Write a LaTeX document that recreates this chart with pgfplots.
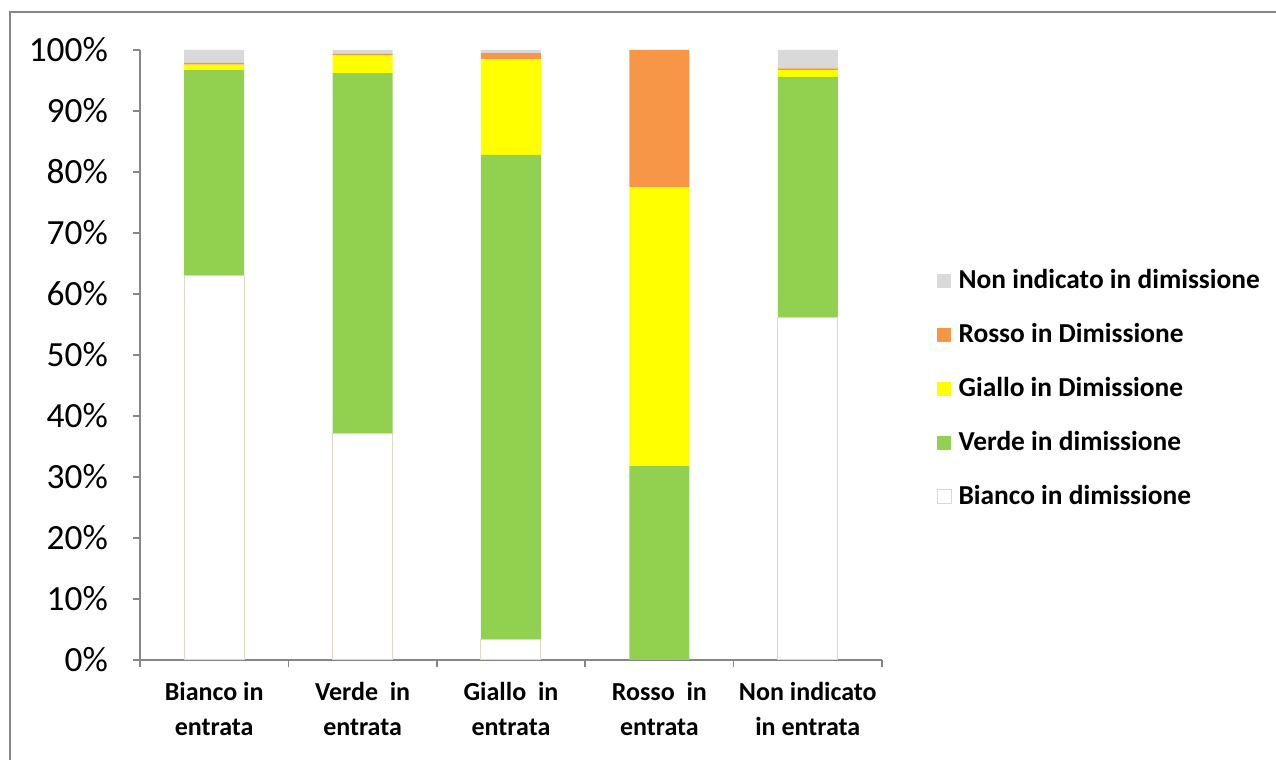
\documentclass[border=0pt]{standalone}
\usepackage{pgfplots}
\usepackage{pgfplotstable}
\pgfplotsset{compat=1.18}
\usepackage{fontspec}
\setmainfont{Carlito}

\definecolor{cGray}{HTML}{D9D9D9}
\definecolor{cOrange}{HTML}{F79646}
\definecolor{cYellow}{HTML}{FFFF00}
\definecolor{cGreen}{HTML}{92D050}
\definecolor{cEdge}{HTML}{DDD9C3}
\definecolor{cAxis}{HTML}{868686}

% percentage of each discharge colour code, per triage code at entry
\pgfplotstableread{
x bianco verde giallo rosso nonind
0 63.0 33.7 0.9 0.3 2.1
1 37.2 59.0 2.9 0.3 0.6
2 3.3 79.5 15.7 1.0 0.5
3 0.0 31.8 45.7 22.5 0.0
4 56.2 39.4 1.1 0.3 3.0
}\data

\begin{document}
\begin{tikzpicture}
\useasboundingbox (0pt,0pt) rectangle (638pt,380pt);
% outer chart frame
\draw[cAxis, line width=1pt] (5pt,-10pt) -- (5pt,374pt) -- (660pt,374pt);
\begin{axis}[
  at={(70pt,50pt)}, anchor=south west,
  scale only axis, width=371pt, height=305pt,
  ybar stacked, bar width=30pt,
  xmin=-0.5, xmax=4.5, ymin=0, ymax=100,
  axis lines*=left,
  axis line style={cAxis, line width=0.8pt},
  tick align=outside,
  major tick length=3.5pt,
  tick style={cAxis, line width=0.8pt},
  xtick={-0.5,0.5,1.5,2.5,3.5,4.5},
  x tick label as interval,
  xticklabels={Bianco in\\entrata, Verde\ \ in\\entrata, Giallo\ \ in\\entrata, Rosso\ \ in\\entrata, Non indicato\\in entrata},
  xticklabel style={align=center, font=\fontsize{13}{17.5}\selectfont\bfseries, yshift=-4pt},
  ytick={0,10,...,100},
  yticklabels={0\%,10\%,20\%,30\%,40\%,50\%,60\%,70\%,80\%,90\%,100\%},
  yticklabel style={font=\fontsize{17.7}{20}\selectfont, xshift=-9pt},
  reverse legend,
  legend cell align=left,
  legend style={draw=none, at={(rel axis cs:1.073,0.647)}, anchor=north west,
    font=\fontsize{13.7}{15}\selectfont\bfseries, row sep=11.85pt, inner sep=0pt,
    nodes={inner xsep=3.5pt}},
  legend image code/.code={\path[#1] (0pt,-3.5pt) rectangle (7pt,3.5pt);},
  clip=false,
]
\addplot[fill=white, draw=cEdge, line width=0.5pt] table[x=x, y=bianco] {\data};
\addlegendentry{Bianco in dimissione}
\addplot[fill=cGreen, draw=none] table[x=x, y=verde] {\data};
\addlegendentry{Verde in dimissione}
\addplot[fill=cYellow, draw=none] table[x=x, y=giallo] {\data};
\addlegendentry{Giallo in Dimissione}
\addplot[fill=cOrange, draw=none] table[x=x, y=rosso] {\data};
\addlegendentry{Rosso in Dimissione}
\addplot[fill=cGray, draw=none] table[x=x, y=nonind] {\data};
\addlegendentry{Non indicato in dimissione}
\end{axis}
\end{tikzpicture}
\end{document}
